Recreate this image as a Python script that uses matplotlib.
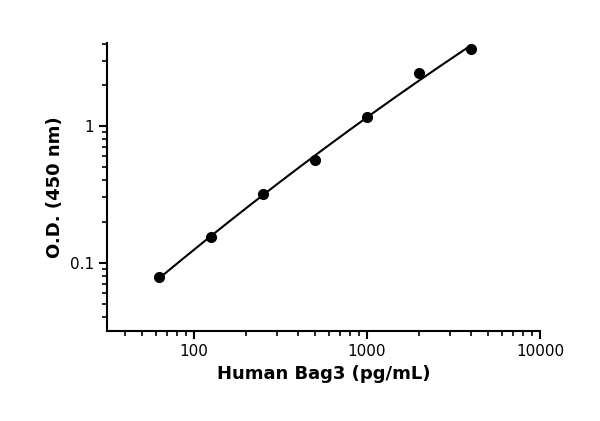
import numpy as np
import matplotlib
matplotlib.use("Agg")
import matplotlib.pyplot as plt
from matplotlib.ticker import LogLocator, NullFormatter, FixedLocator, FixedFormatter

conc = [62.5, 125, 250, 500, 1000, 2000, 4000]
od = [0.078, 0.153, 0.318, 0.564, 1.16, 2.43, 3.64]

fig = plt.figure(figsize=(6, 4.21), dpi=100)
ax = fig.add_axes([107/600, 1-331/421, 433/600, 288/421])
ax.set_xscale('log'); ax.set_yscale('log')
ax.set_xlim(31.4, 10000); ax.set_ylim(0.0316, 4.05)

lx = np.log10(conc); ly = np.log10(od)
c = np.polyfit(lx, ly, 2)
xs = np.linspace(lx[0], lx[-1], 200)
ax.plot(10**xs, 10**np.polyval(c, xs), color='black', lw=1.5)
ax.plot(conc, od, 'o', color='black', ms=7)

for s in ['top', 'right']:
    ax.spines[s].set_visible(False)
for s in ['left', 'bottom']:
    ax.spines[s].set_linewidth(1.5)
ax.xaxis.set_major_locator(FixedLocator([100, 1000, 10000]))
ax.xaxis.set_major_formatter(FixedFormatter(['100', '1000', '10000']))
ax.yaxis.set_major_locator(FixedLocator([0.1, 1]))
ax.yaxis.set_major_formatter(FixedFormatter(['0.1', '1']))
ax.xaxis.set_minor_locator(LogLocator(subs=np.arange(2, 10)))
ax.yaxis.set_minor_locator(LogLocator(subs=np.arange(2, 10)))
ax.xaxis.set_minor_formatter(NullFormatter()); ax.yaxis.set_minor_formatter(NullFormatter())
ax.tick_params(which='major', length=6, width=1.5, labelsize=11)
ax.tick_params(which='minor', length=3.5, width=1.2)
ax.set_xlabel('Human Bag3 (pg/mL)', fontsize=13, fontweight='bold')
ax.set_ylabel('O.D. (450 nm)', fontsize=13, fontweight='bold')
fig.savefig('out.png', dpi=100)
